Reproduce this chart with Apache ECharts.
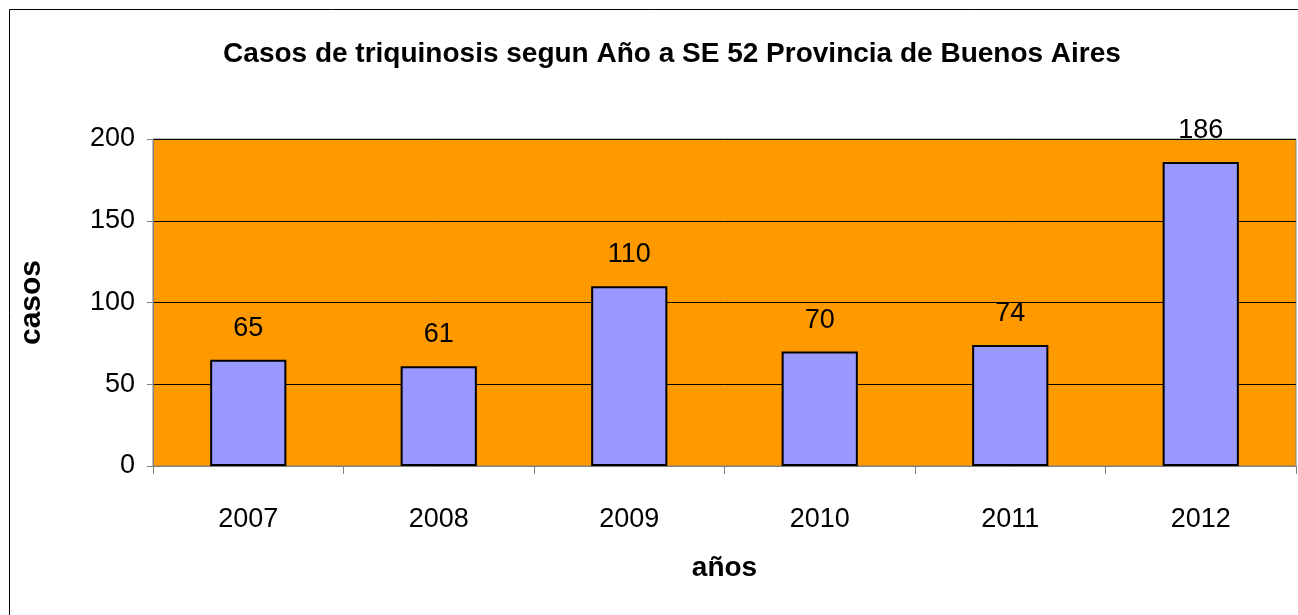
<!DOCTYPE html>
<html>
<head>
<meta charset="utf-8">
<script src="https://cdn.jsdelivr.net/npm/echarts@6/dist/echarts.min.js"></script>
<style>
  html, body { margin: 0; padding: 0; background: #fff; }
  #chart { width: 1298px; height: 615px; }
</style>
</head>
<body>
<div id="chart"></div>
<script>
// datos
var years = ['2007', '2008', '2009', '2010', '2011', '2012'];
var casos = [65, 61, 110, 70, 74, 186];
var yTicks = [0, 50, 100, 150, 200];

var myChart = echarts.init(document.getElementById('chart'));

myChart.setOption({
  animation: false,
  textStyle: { fontFamily: 'Liberation Sans, Arial, sans-serif' },
  title: {
    text: 'Casos de triquinosis segun Año a SE 52 Provincia de Buenos Aires',
    left: 667,
    top: 35,
    textAlign: 'center',
    textStyle: { fontSize: 28, fontWeight: 'bold', color: '#000' }
  },
  // marco del grafico (solo se ve arriba y a la izquierda)
  graphic: [
    { type: 'line', shape: { x1: 9.5, y1: 9.5, x2: 1298, y2: 9.5 }, style: { stroke: '#000', lineWidth: 1 } },
    { type: 'line', shape: { x1: 9.5, y1: 9.5, x2: 9.5, y2: 615 }, style: { stroke: '#000', lineWidth: 1 } }
  ],
  grid: {
    left: 153,
    right: 2,
    top: 139,
    bottom: 149,
    show: true,
    backgroundColor: '#FF9900',
    borderColor: '#808080',
    borderWidth: 1
  },
  xAxis: {
    type: 'category',
    data: years,
    name: 'años',
    nameLocation: 'middle',
    nameGap: 88,
    nameTextStyle: { fontSize: 28, fontWeight: 'bold', color: '#000', verticalAlign: 'top' },
    axisLine: { lineStyle: { color: '#808080' } },
    axisTick: { show: true, length: 8, lineStyle: { color: '#808080' } },
    axisLabel: { fontSize: 27, color: '#000', margin: 40 }
  },
  yAxis: {
    type: 'value',
    min: yTicks[0],
    max: yTicks[yTicks.length - 1],
    interval: 50,
    name: 'casos',
    nameLocation: 'middle',
    nameGap: 106,
    nameRotate: 90,
    nameTextStyle: { fontSize: 30, fontWeight: 'bold', color: '#000' },
    axisLine: { show: true, lineStyle: { color: '#808080' } },
    axisTick: { show: true, length: 6, lineStyle: { color: '#808080' } },
    axisLabel: { fontSize: 27, color: '#000', margin: 18 },
    splitLine: { lineStyle: { color: '#000', width: 1 } }
  },
  series: [{
    type: 'bar',
    data: casos,
    barWidth: '40%',
    itemStyle: { color: '#9999FF', borderColor: '#000', borderWidth: 2 },
    label: { show: true, position: 'top', distance: 18, fontSize: 27, color: '#000' }
  }]
});
</script>
</body>
</html>
